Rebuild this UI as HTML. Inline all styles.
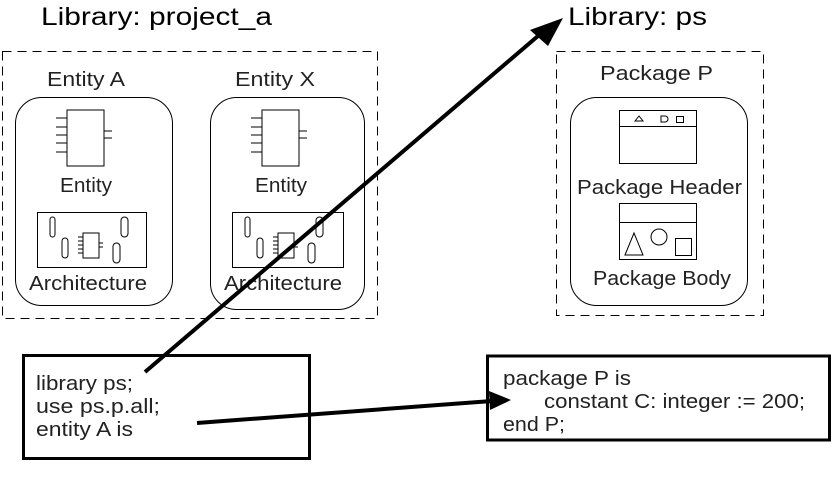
<!DOCTYPE html>
<html><head><meta charset="utf-8"><style>
html,body{margin:0;padding:0;background:#fff;}
svg{display:block;font-family:"Liberation Sans",sans-serif;}
</style></head><body>
<svg width="833" height="483" viewBox="0 0 833 483" xmlns="http://www.w3.org/2000/svg">
<defs>
<g id="ent">
<rect x="67" y="110" width="37" height="56" fill="none" stroke="#000" stroke-width="1"/>
<path d="M56 118H67M56 127H67M56 135H67M56 143H67M56 152H67M104 131H112M104 138H112" stroke="#000" stroke-width="1"/>
</g>
<g id="arch" fill="none" stroke="#000" stroke-width="1">
<rect x="50" y="217" width="5" height="20" rx="2.5"/>
<rect x="62" y="238" width="6" height="20" rx="3"/>
<rect x="121" y="217" width="7" height="20" rx="3.5"/>
<rect x="113" y="243" width="7" height="20" rx="3.5"/>
<rect x="83" y="233" width="16" height="25"/>
<path d="M78 237H83M78 241H83M78 245H83M78 249H83M78 253H83M99 243H103M99 247H103"/>
</g>
</defs>
<text x="41" y="25" font-size="25" textLength="231" lengthAdjust="spacingAndGlyphs">Library: project_a</text>
<text x="568" y="25" font-size="25" textLength="139" lengthAdjust="spacingAndGlyphs">Library: ps</text>

<rect x="2.5" y="51.5" width="375" height="267" fill="none" stroke="#000" stroke-dasharray="9,6" stroke-width="1"/>
<rect x="556.5" y="51.5" width="207" height="264" fill="none" stroke="#000" stroke-dasharray="9,6" stroke-width="1"/>

<g font-size="20" fill="#222">
<text x="47" y="86" textLength="78" lengthAdjust="spacingAndGlyphs">Entity A</text>
<text x="235" y="86" textLength="80" lengthAdjust="spacingAndGlyphs">Entity X</text>
<text x="600" y="80" textLength="113" lengthAdjust="spacingAndGlyphs">Package P</text>
</g>
<rect x="15.5" y="97.5" width="157" height="208" rx="26" fill="none" stroke="#000"/>
<rect x="210.5" y="97.5" width="154" height="212" rx="26" fill="none" stroke="#000"/>
<rect x="570.5" y="97.5" width="177" height="208" rx="26" fill="none" stroke="#000"/>

<use href="#ent"/>
<use href="#ent" x="195"/>
<rect x="37.5" y="212.5" width="109" height="55" fill="none" stroke="#000"/>
<rect x="232.5" y="212.5" width="111" height="55" fill="none" stroke="#000"/>
<use href="#arch"/>
<use href="#arch" x="195"/>
<g font-size="20" fill="#222">
<text x="60" y="192" textLength="52" lengthAdjust="spacingAndGlyphs">Entity</text>
<text x="255" y="192" textLength="52" lengthAdjust="spacingAndGlyphs">Entity</text>
<text x="29" y="290" textLength="118" lengthAdjust="spacingAndGlyphs">Architecture</text>
<text x="224" y="290" textLength="118" lengthAdjust="spacingAndGlyphs">Architecture</text>
<text x="577" y="194" textLength="165" lengthAdjust="spacingAndGlyphs">Package Header</text>
<text x="593" y="285" textLength="138" lengthAdjust="spacingAndGlyphs">Package Body</text>
</g>
<g fill="none" stroke="#000" stroke-width="1">
<rect x="619.5" y="110.5" width="77" height="53"/>
<path d="M619 126.5H697"/>
<path d="M635 121L639 116L643 121Z"/>
<path d="M661 116H665A3 3 0 0 1 665 122H661Z"/>
<rect x="676.5" y="116.5" width="7" height="6"/>
<rect x="619.5" y="203.5" width="77" height="56"/>
<path d="M619 222.5H697"/>
<path d="M625 255L634 233L643 255Z"/>
<circle cx="659" cy="237" r="8"/>
<rect x="675.5" y="238.5" width="16" height="17"/>
</g>

<rect x="23.5" y="355.5" width="286" height="103" fill="none" stroke="#000" stroke-width="3"/>
<rect x="487.5" y="356" width="342" height="84" fill="none" stroke="#000" stroke-width="3"/>
<g font-size="20" fill="#222">
<text x="36" y="390" textLength="97" lengthAdjust="spacingAndGlyphs">library ps;</text>
<text x="36" y="413" textLength="124" lengthAdjust="spacingAndGlyphs">use  ps.p.all;</text>
<text x="36" y="436" textLength="97" lengthAdjust="spacingAndGlyphs">entity A is</text>
<text x="503" y="385" textLength="128" lengthAdjust="spacingAndGlyphs">package P is</text>
<text x="544" y="408" textLength="261" lengthAdjust="spacingAndGlyphs">constant C: integer := 200;</text>
<text x="503" y="431" textLength="62" lengthAdjust="spacingAndGlyphs">end P;</text>
</g>

<line x1="145" y1="372" x2="545" y2="30" stroke="#000" stroke-width="4"/>
<path d="M563 18L530 30L548 46Z" fill="#000"/>
<line x1="197" y1="423" x2="492" y2="401" stroke="#000" stroke-width="4"/>
<path d="M511 400L489 391L490 410Z" fill="#000"/>
</svg>
</body></html>
